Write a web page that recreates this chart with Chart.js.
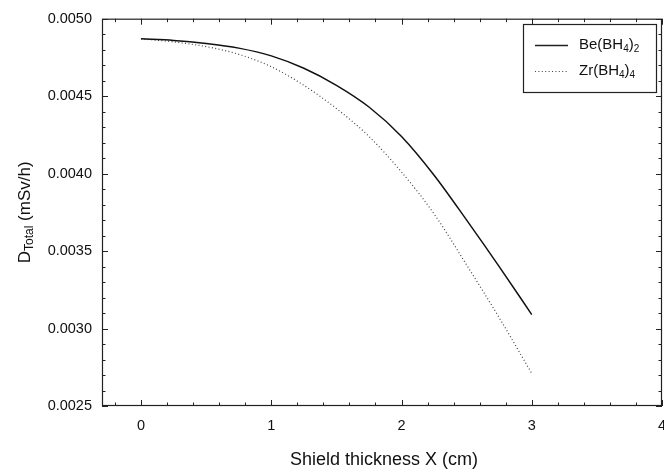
<!DOCTYPE html>
<html>
<head>
<meta charset="utf-8">
<script src="https://cdn.jsdelivr.net/npm/chart.js@4.4.1/dist/chart.umd.min.js"></script>
<style>
  html, body { margin: 0; padding: 0; background: #fff; overflow: hidden; }
  #wrap { width: 664px; height: 470px; }
</style>
</head>
<body>
<div id="wrap"><canvas id="doseChart"></canvas></div>
<script>
// shield thickness in cm
const thickness = [0, 0.25, 0.5, 0.75, 1, 1.25, 1.5, 1.75, 2, 2.25, 2.5, 2.75, 3]
// total dose rate behind the shield, mSv/h
const doseBe = [0.00487, 0.00486, 0.00484, 0.00481, 0.00476, 0.00468, 0.00457, 0.00443, 0.00424, 0.00399, 0.00370, 0.00340, 0.00309]
const doseZr = [0.00487, 0.00485, 0.00482, 0.00477, 0.00469, 0.00457, 0.00442, 0.00424, 0.00401, 0.00374, 0.00341, 0.00307, 0.00271]

const xRange = [-0.3, 4]
const yRange = [0.0025, 0.0050]
const xMajor = [0, 1, 2, 3, 4]
const yMajor = [0.0025, 0.0030, 0.0035, 0.0040, 0.0045, 0.0050]

const FONT = "'Liberation Sans', Arial, sans-serif"

function points (xs, ys) {
  return xs.map((x, i) => ({ x, y: ys[i] }))
}

// text with subscript parts, e.g. [['Be(BH'], ['4', true], [')'], ['2', true]]
function richWidth (ctx, parts, size, subSize) {
  let w = 0
  for (const [t, sub] of parts) {
    ctx.font = (sub ? subSize : size) + 'px ' + FONT
    w += ctx.measureText(t).width
  }
  return w
}

function drawRich (ctx, parts, x, y, size, subSize) {
  ctx.textBaseline = 'middle'
  ctx.textAlign = 'left'
  for (const [t, sub] of parts) {
    ctx.font = (sub ? subSize : size) + 'px ' + FONT
    ctx.fillText(t, x, sub ? y + size * 0.3 : y)
    x += ctx.measureText(t).width
  }
}

const decorations = {
  id: 'decorations',
  afterDatasetsDraw (chart) {
    const { ctx, chartArea: a, scales } = chart
    const xs = scales.x
    const ys = scales.y
    ctx.save()
    ctx.strokeStyle = '#222'
    ctx.lineWidth = 1.2
    ctx.strokeRect(a.left + 0.5, a.top + 0.5, a.right - a.left - 1, a.bottom - a.top - 1)

    // inward ticks on all four sides
    ctx.lineWidth = 1
    ctx.beginPath()
    for (let i = -1; i <= 20; i++) {
      const v = i * 0.2
      if (v < xRange[0] || v > xRange[1] + 1e-9) continue
      const px = Math.round(xs.getPixelForValue(v)) + 0.5
      const len = i % 5 === 0 ? 6 : 3.5
      ctx.moveTo(px, a.bottom); ctx.lineTo(px, a.bottom - len)
      ctx.moveTo(px, a.top); ctx.lineTo(px, a.top + len)
    }
    for (let i = 25; i <= 50; i++) {
      const py = Math.round(ys.getPixelForValue(i * 0.0001)) + 0.5
      const len = i % 5 === 0 ? 6 : 3.5
      ctx.moveTo(a.left, py); ctx.lineTo(a.left + len, py)
      ctx.moveTo(a.right, py); ctx.lineTo(a.right - len, py)
    }
    ctx.stroke()

    // axis titles
    ctx.fillStyle = '#111'
    ctx.font = '18px ' + FONT
    ctx.textAlign = 'center'
    ctx.textBaseline = 'middle'
    ctx.fillText('Shield thickness X (cm)', (a.left + a.right) / 2 + 2, 460)

    const yTitle = [['D'], ['Total', true], [' (mSv/h)']]
    ctx.save()
    ctx.translate(25, (a.top + a.bottom) / 2)
    ctx.rotate(-Math.PI / 2)
    const w = richWidth(ctx, yTitle, 17, 12)
    drawRich(ctx, yTitle, -w / 2, 0, 17, 12)
    ctx.restore()

    // legend
    ctx.strokeStyle = '#222'
    ctx.lineWidth = 1.2
    ctx.strokeRect(523.5, 24.5, 133, 68)
    ctx.lineWidth = 1.5
    ctx.beginPath()
    ctx.moveTo(535, 45.5); ctx.lineTo(568, 45.5)
    ctx.stroke()
    ctx.lineWidth = 1.2
    ctx.strokeStyle = '#444'
    ctx.setLineDash([1, 2.4])
    ctx.beginPath()
    ctx.moveTo(535, 71.5); ctx.lineTo(568, 71.5)
    ctx.stroke()
    ctx.setLineDash([])
    drawRich(ctx, [['Be(BH'], ['4', true], [')'], ['2', true]], 579, 45, 15, 10)
    drawRich(ctx, [['Zr(BH'], ['4', true], [')'], ['4', true]], 579, 71, 15, 10)
    ctx.restore()
  }
}

new Chart(document.getElementById('doseChart'), {
  type: 'line',
  data: {
    datasets: [{
      label: 'Be(BH4)2',
      data: points(thickness, doseBe),
      borderColor: '#111',
      borderWidth: 1.5,
      pointRadius: 0,
      cubicInterpolationMode: 'monotone'
    }, {
      label: 'Zr(BH4)4',
      data: points(thickness, doseZr),
      borderColor: '#444',
      borderWidth: 1.2,
      borderDash: [1, 2.4],
      pointRadius: 0,
      cubicInterpolationMode: 'monotone'
    }]
  },
  options: {
    responsive: true,
    maintainAspectRatio: false,
    animation: false,
    layout: { padding: { top: 14, right: 2, bottom: 0, left: 0 } },
    plugins: { legend: { display: false }, tooltip: { enabled: false } },
    scales: {
      x: {
        type: 'linear',
        min: xRange[0],
        max: xRange[1],
        afterBuildTicks: s => { s.ticks = xMajor.map(v => ({ value: v })) },
        afterFit: s => { s.height = 64; s.paddingLeft = 0; s.paddingRight = 0 },
        grid: { display: false, drawTicks: false },
        border: { display: false },
        ticks: {
          padding: 11,
          color: '#111',
          font: { family: FONT, size: 14.5 },
          maxRotation: 0,
          callback: v => String(v)
        }
      },
      y: {
        type: 'linear',
        min: yRange[0],
        max: yRange[1],
        afterBuildTicks: s => { s.ticks = yMajor.map(v => ({ value: v })) },
        afterFit: s => { s.width = 102 },
        grid: { display: false, drawTicks: false },
        border: { display: false },
        ticks: {
          padding: 10,
          color: '#111',
          font: { family: FONT, size: 14.5 },
          callback: v => v.toFixed(4)
        }
      }
    }
  },
  plugins: [decorations]
})
</script>
</body>
</html>
